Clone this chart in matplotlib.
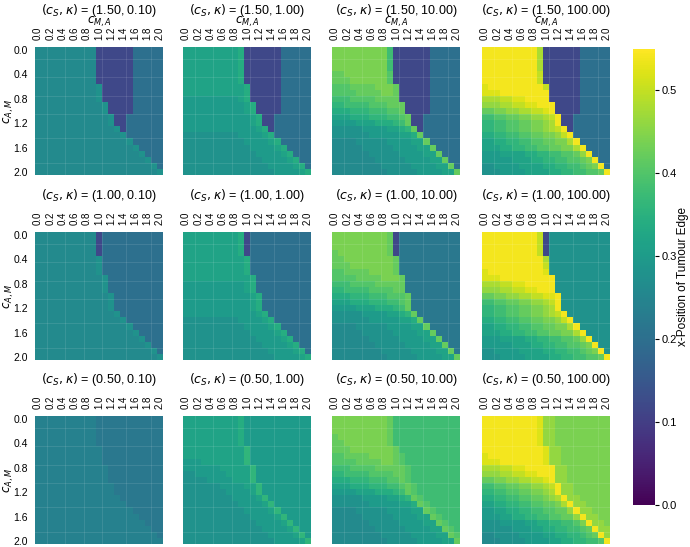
import numpy as np
import matplotlib
matplotlib.use("Agg")
import matplotlib.pyplot as plt

plt.rcParams['font.family'] = ['Liberation Sans', 'DejaVu Sans']

# parameter values of the 3 x 4 panel grid
cs_values = [1.50, 1.00, 0.50]
kappa_values = [0.10, 1.00, 10.00, 100.00]

x_tick_labels = ["0.0", "0.2", "0.4", "0.6", "0.8", "1.0", "1.2", "1.4", "1.6", "1.8", "2.0"]
y_tick_labels = ["0.0", "0.4", "0.8", "1.2", "1.6", "2.0"]

# heatmap cells, one string per c_A,M row (0.0 .. 2.0),
# one char per c_M,A column; value = int(char, 36) / 50
grid_cs150_k0p1 = [
    "dddddddddd666666aaaaa", "dddddddddd666666aaaaa", "dddddddddd666666aaaaa",
    "dddddddddd666666aaaaa", "dddddddddd666666aaaaa", "dddddddddd666666aaaaa",
    "dddddddddde66666aaaaa", "dddddddddde66666aaaaa", "dddddddddde66666aaaaa",
    "ddddddddddde6666aaaaa", "ddddddddddde6666aaaaa", "dddddddddddde66aaaaaa",
    "dddddddddddde66aaaaaa", "ddddddddddddde6aaaaaa", "ddddddddddddddeaaaaaa",
    "dddddddddddddddeaaaaa", "ddddddddddddddddeaaaa", "dddddddddddddddddeaaa",
    "ddddddddddddddddddeaa", "dddddddddddddddddddea", "dddddddddddddddddddde",
]
grid_cs150_k1 = [
    "gggggggggh666666aaaaa", "gggggggggh666666aaaaa", "gggggggggh666666aaaaa",
    "gggggggggh666666aaaaa", "gggggggggh666666aaaaa", "gggggggggh666666aaaaa",
    "ggggggggggh66666aaaaa", "ggggggggggh66666aaaaa", "fffffffffgh66666aaaaa",
    "ffffffffffgh6666aaaaa", "ffffffffffgh6666aaaaa", "fffffffffffgh66aaaaaa",
    "fffffffffffgh66aaaaaa", "ffffffffffffgh6aaaaaa", "eeeeeeeeeffffghaaaaaa",
    "eeeeeeeeeeffffghaaaaa", "eeeeeeeeeeeffffghaaaa", "eeeeeeeeeeeeffffghaaa",
    "eeeeeeeeeeeeeffffghaa", "eeeeeeeeeeeeeeffffgha", "eeeeeeeeeeeeeeeffffgh",
]
grid_cs150_k10 = [
    "mmmmmmmmmj666666aaaaa", "mmmmmmmmmj666666aaaaa", "mmmmmmmmmj666666aaaaa",
    "mmmmmmmmmj666666aaaaa", "llmmmmmmmk666666aaaaa", "lllmmmmmmk666666aaaaa",
    "kkkllllmmml66666aaaaa", "kkkkllllmml66666aaaaa", "jjjkkkkllll66666aaaaa",
    "iijjjjkkklll6666aaaaa", "hhhiiijjjkkl6666aaaaa", "ggghhhiiijjkl66aaaaaa",
    "ffffggghhhijl66aaaaaa", "eeeeeffffgghil6aaaaaa", "eeeeeefffffgghlaaaaaa",
    "ddddeeeeeffffgglaaaaa", "dddddeeeeeffffgglaaaa", "ddddddeeeeeffffgglaaa",
    "dddddddeeeeeffffgglaa", "ddddddddeeeeeffffggla", "dddddddddeeeeeffffggl",
]
grid_cs150_k100 = [
    "rrrrrrrrro666666aaaaa", "rrrrrrrrro666666aaaaa", "rrrrrrrrro666666aaaaa",
    "rrrrrrrrro666666aaaaa", "rrrrrrrrrp666666aaaaa", "rrrrrrrrrp666666aaaaa",
    "qrrrrrrrrrp66666aaaaa", "qqqrrrrrrrr66666aaaaa", "oooppqqrrrr66666aaaaa",
    "nnnooppqqrrr6666aaaaa", "llmmnnooppqr6666aaaaa", "jjkkllmmnnopr66aaaaaa",
    "iijjkkllmmnor66aaaaaa", "iijjkkllmmnopr6aaaaaa", "hhiijjkkllmmnpraaaaaa",
    "gghhiijjkkllmmoraaaaa", "ggghhiijjkkllmmoraaaa", "fffgggghhiijjkklnraaa",
    "fffffggghhiijjkklmraa", "eeffffgggghhiijjklmra", "eeeffffgggghhiijjkklr",
]
grid_cs100_k0p1 = [
    "dddddddddd6aaaaaaaaaa", "dddddddddd6aaaaaaaaaa", "dddddddddd6aaaaaaaaaa",
    "dddddddddd6aaaaaaaaaa", "ddddddddddeaaaaaaaaaa", "ddddddddddeaaaaaaaaaa",
    "ddddddddddeaaaaaaaaaa", "dddddddddddeaaaaaaaaa", "dddddddddddeaaaaaaaaa",
    "dddddddddddeaaaaaaaaa", "ddddddddddddeaaaaaaaa", "ddddddddddddeaaaaaaaa",
    "ddddddddddddeaaaaaaaa", "dddddddddddddeaaaaaaa", "ddddddddddddddeaaaaaa",
    "dddddddddddddddeaaaaa", "ddddddddddddddddeaaaa", "dddddddddddddddddeaaa",
    "ddddddddddddddddddeaa", "dddddddddddddddddddea", "dddddddddddddddddddde",
]
grid_cs100_k1 = [
    "gggggggggh6aaaaaaaaaa", "gggggggggh6aaaaaaaaaa", "gggggggggh6aaaaaaaaaa",
    "gggggggggh6aaaaaaaaaa", "gggggggggghaaaaaaaaaa", "gggggggggghaaaaaaaaaa",
    "gggggggggghaaaaaaaaaa", "ggggggggggghaaaaaaaaa", "ffffffffffghaaaaaaaaa",
    "ffffffffffghaaaaaaaaa", "fffffffffffghaaaaaaaa", "fffffffffffghaaaaaaaa",
    "fffffffffffghaaaaaaaa", "ffffffffffffghaaaaaaa", "eeeeeeeeeffffghaaaaaa",
    "eeeeeeeeeeffffghaaaaa", "eeeeeeeeeeeffffghaaaa", "eeeeeeeeeeeeffffghaaa",
    "eeeeeeeeeeeeeffffghaa", "eeeeeeeeeeeeeeffffgha", "eeeeeeeeeeeeeeeffffgh",
]
grid_cs100_k10 = [
    "mmmmmmmmml6bbbbbbbbbb", "mmmmmmmmml6bbbbbbbbbb", "mmmmmmmmml6bbbbbbbbbb",
    "lmmmmmmmml6bbbbbbbbbb", "llmmmmmmmmlbbbbbbbbbb", "lllmmmmmmmlbbbbbbbbbb",
    "kkllllmmmmlbbbbbbbbbb", "kkkkllllmmmlbbbbbbbbb", "jjjkkkklllllbbbbbbbbb",
    "iijjjjkkkkllbbbbbbbbb", "hhhiiijjjkkklbbbbbbbb", "ggghhhiiijjklbbbbbbbb",
    "ffffggghhhijlbbbbbbbb", "eeeeeffffgghilbbbbbbb", "eeeeeefffffgghlbbbbbb",
    "ddddeeeeeffffgglbbbbb", "dddddeeeeeffffgglbbbb", "ddddddeeeeeffffgglbbb",
    "dddddddeeeeeffffgglbb", "ddddddddeeeeeffffgglb", "dddddddddeeeeeffffggl",
]
grid_cs100_k100 = [
    "rrrrrrrrrp6eeeeeeeeee", "rrrrrrrrrp6eeeeeeeeee", "rrrrrrrrrp6eeeeeeeeee",
    "rrrrrrrrrp6eeeeeeeeee", "rrrrrrrrrroeeeeeeeeee", "rrrrrrrrrrpeeeeeeeeee",
    "qrrrrrrrrrqeeeeeeeeee", "qqqrrrrrrrrreeeeeeeee", "oooppqqrrrrreeeeeeeee",
    "nnnooppqqrrreeeeeeeee", "llmmnnooppqqreeeeeeee", "jjkkllmmnnopreeeeeeee",
    "iijjkkllmmnoreeeeeeee", "iijjkkllmmnopreeeeeee", "hhiijjkkllmmnpreeeeee",
    "gghhiijjkkllmmoreeeee", "ggghhiijjkkllmmoreeee", "fffgggghhiijjkklnreee",
    "fffffggghhiijjkklmree", "eeffffgggghhiijjklmre", "eeeffffgggghhiijjkklr",
]
grid_cs050_k0p1 = [
    "ccccccccccbbbbbbbbbbb", "ccccccccccbbbbbbbbbbb", "ccccccccccbbbbbbbbbbb",
    "ccccccccccbbbbbbbbbbb", "ccccccccccbbbbbbbbbbb", "cccccccccccbbbbbbbbbb",
    "cccccccccccbbbbbbbbbb", "cccccccccccbbbbbbbbbb", "ccccccccccccbbbbbbbbb",
    "ccccccccccccbbbbbbbbb", "ccccccccccccbbbbbbbbb", "cccccccccccccbbbbbbbb",
    "cccccccccccccbbbbbbbb", "ccccccccccccccbbbbbbb", "cccccccccccccccbbbbbb",
    "ccccccccccccccccbbbbb", "cccccccccccccccccbbbb", "ccccccccccccccccccbbb",
    "cccccccccccccccccccbb", "ccccccccccccccccccccb", "ccccccccccccccccccccc",
]
grid_cs050_k1 = [
    "ggggggggghfffffffffff", "ggggggggghfffffffffff", "ggggggggghfffffffffff",
    "ggggggggghfffffffffff", "ggggggggghfffffffffff", "ggggggggggiffffffffff",
    "ggggggggggiffffffffff", "fffgggggggiffffffffff", "ffffffgggggifffffffff",
    "eefffffggggifffffffff", "eeeeffffgggifffffffff", "eeeeeeffffggiffffffff",
    "eeeeeeeffffgiffffffff", "eeeeeeeeffffgifffffff", "eeeeeeeeeffffgiffffff",
    "eeeeeeeeeeffffgifffff", "eeeeeeeeeeeffffgiffff", "eeeeeeeeeeeeffffgifff",
    "eeeeeeeeeeeeeffffgiff", "eeeeeeeeeeeeeeffffgif", "eeeeeeeeeeeeeeeffffgi",
]
grid_cs050_k10 = [
    "mmmmmmmmmljjjjjjjjjjj", "mmmmmmmmmljjjjjjjjjjj", "mmmmmmmmmljjjjjjjjjjj",
    "lmmmmmmmmljjjjjjjjjjj", "llmmmmmmmljjjjjjjjjjj", "lllmmmmmmmljjjjjjjjjj",
    "kkllllmmmmlkjjjjjjjjj", "kkkkllllmmlkjjjjjjjjj", "jjjkkkklllllkjjjjjjjj",
    "iijjjjkkkkllkjjjjjjjj", "hhhiiijjjkklkjjjjjjjj", "ggghhhiiijjklkjjjjjjj",
    "ffffggghhhijlkjjjjjjj", "eeeeeffffgghilkjjjjjj", "eeeeeefffffgghlkjjjjj",
    "ddddeeeeeffffgglkjjjj", "dddddeeeeeffffgglkjjj", "ddddddeeeeeffffgglkjj",
    "dddddddeeeeeffffgglkj", "ddddddddeeeeeffffgglk", "dddddddddeeeeeffffggl",
]
grid_cs050_k100 = [
    "rrrrrrrrrqnnmmmmmmmmm", "rrrrrrrrrqnnmmmmmmmmm", "rrrrrrrrrqnnmmmmmmmmm",
    "rrrrrrrrrqnnmmmmmmmmm", "rrrrrrrrrqnnmmmmmmmmm", "rrrrrrrrrrqnnmmmmmmmm",
    "qrrrrrrrrrqnnmmmmmmmm", "qqqrrrrrrrqnnmmmmmmmm", "oooppqqrrrrrnnmmmmmmm",
    "nnnooppqqrrrnnmmmmmmm", "llmmnnooppqrnnmmmmmmm", "jjkkllmmnnoprnnmmmmmm",
    "iijjkkllmmnornnmmmmmm", "hhiijjkkllmnornnmmmmm", "gghhiijjkkllmornnmmmm",
    "ffgghhiijjkkllnrnnmmm", "fffgghhiijjkkllnrnnmm", "eeeffffgghhiijjkmrnnm",
    "eeeeefffgghhiijjklrnn", "ddeeeeffffgghhiijklrn", "dddeeeeffffgghhiijjkr",
]

grids = [
    [grid_cs150_k0p1, grid_cs150_k1, grid_cs150_k10, grid_cs150_k100],
    [grid_cs100_k0p1, grid_cs100_k1, grid_cs100_k10, grid_cs100_k100],
    [grid_cs050_k0p1, grid_cs050_k1, grid_cs050_k10, grid_cs050_k100],
]


def decode(rows):
    for r in rows:
        if len(r) != 21:
            raise ValueError(f"bad row length {len(r)}: {r}")
    return np.array([[int(ch, 36) / 50 for ch in r] for r in rows])


fig = plt.figure(figsize=(6.9, 5.47), dpi=100)
W, H = 690, 547
lefts = [35, 183, 332, 482]
tops = [47, 232, 416]
size = 128

for i, cs in enumerate(cs_values):
    for j, kappa in enumerate(kappa_values):
        ax = fig.add_axes([lefts[j] / W, 1 - (tops[i] + size) / H, size / W, size / H])
        z = decode(grids[i][j])
        mesh = ax.pcolormesh(z, cmap='viridis', vmin=0, vmax=0.55)
        ax.set_xlim(0, 21)
        ax.set_ylim(21, 0)
        # faint light seams as in the original render
        for k in [2, 5, 8, 11, 15, 19]:
            ax.axvline(k, color='white', alpha=0.12, lw=0.6)
            ax.axhline(k, color='white', alpha=0.12, lw=0.6)
        for s in ax.spines.values():
            s.set_visible(False)
        ax.xaxis.tick_top()
        ax.set_xticks(np.arange(0, 21, 2) + 0.5)
        ax.set_xticklabels(x_tick_labels, rotation=90, fontsize=7)
        if j == 0:
            ax.set_yticks(np.arange(0, 21, 4) + 0.5)
            ax.set_yticklabels(y_tick_labels, fontsize=7.5)
            ax.set_ylabel(r"$c_{A,M}$", fontsize=8.5)
            ax.yaxis.set_label_coords(-0.15, 0.5)
        else:
            ax.set_yticks([])
        ax.tick_params(length=0, pad=5)
        if i == 0:
            ax.set_xlabel(r"$c_{M,A}$", fontsize=8.5)
            ax.xaxis.set_label_position('top')
            ax.xaxis.set_label_coords(0.5, 1.2)
            ax.xaxis.label.set_va('center')
        ax.text(0.5, 1.285, rf"$(c_S, \kappa)$ = ({cs:.2f}, {kappa:.2f})",
                transform=ax.transAxes, ha='center', va='center', fontsize=9)

cax = fig.add_axes([633 / W, 1 - 505 / H, 22 / W, 456 / H])
cb = fig.colorbar(mesh, cax=cax)
cb.outline.set_visible(False)
cb.set_ticks([0.0, 0.1, 0.2, 0.3, 0.4, 0.5])
cb.ax.tick_params(labelsize=8, length=3, pad=2)
cb.set_label("x-Position of Tumour Edge", fontsize=8.5, labelpad=0)

fig.savefig("out.png", dpi=100)
